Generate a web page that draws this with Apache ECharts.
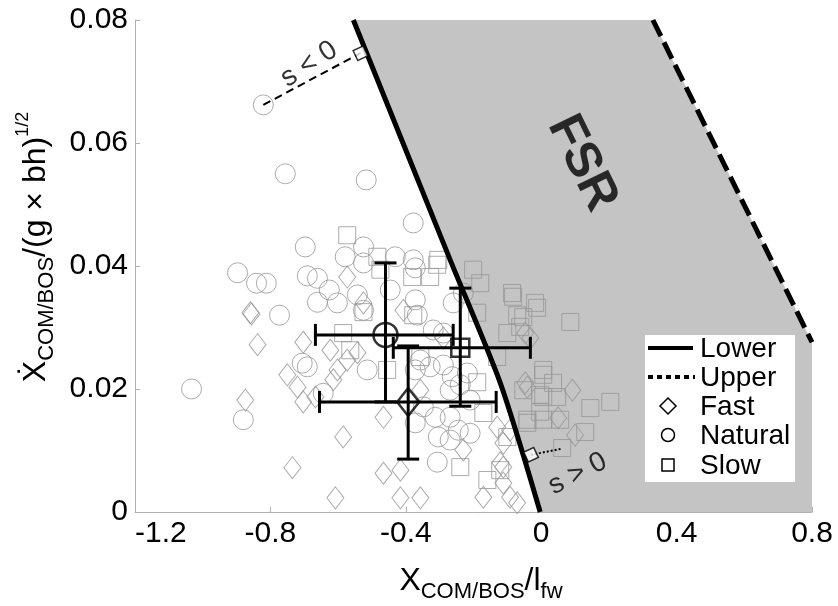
<!DOCTYPE html>
<html>
<head>
<meta charset="utf-8">
<script src="https://cdn.jsdelivr.net/npm/echarts@6/dist/echarts.min.js"></script>
<style>html,body{margin:0;padding:0;background:#fff}#c{width:838px;height:606px}</style>
</head>
<body>
<div id="c"></div>
<script>
// ---- data ----
const xTickLabels = ['-1.2', '-0.8', '-0.4', '0', '0.4', '0.8'];
const yTickLabels = ['0', '0.02', '0.04', '0.06', '0.08'];

const fastPoints = [
  [-0.573,0.0382],[-0.859,0.0324],[-0.838,0.0272],[-0.750,0.0223],[-0.703,0.0276],[-0.623,0.0263],
  [-0.874,0.0182],[-0.720,0.0203],[-0.703,0.0179],[-0.667,0.0187],[-0.614,0.0215],[-0.602,0.0231],
  [-0.573,0.0247],[-0.543,0.0259],[-0.525,0.0340],[-0.466,0.0154],[-0.585,0.0122],[-0.735,0.0072],
  [-0.608,0.0023],[-0.466,0.0063],[-0.416,0.0068],[-0.416,0.0023],[-0.357,0.0023],[-0.130,0.0138],
  [-0.112,0.0112],[-0.121,0.0080],[-0.171,0.0024],[-0.112,0.0047],[-0.092,0.0024],[-0.071,0.0015],
  [-0.041,0.0203],[-0.032,0.0283],[-0.407,0.0328],[-0.289,0.0283],[-0.357,0.0198],[-0.230,0.0101],
  [-0.047,0.0291],[-0.047,0.0210],[0.092,0.0198],[0.050,0.0153],[0.100,0.0125],[-0.092,0.0133],
  [-0.112,0.0073],[-0.856,0.0322]
];
const naturalPoints = [
  [-0.821,0.0662],[-0.756,0.0550],[-0.517,0.0540],[-0.378,0.0470],[-0.697,0.0431],[-0.525,0.0431],
  [-0.579,0.0415],[-0.431,0.0415],[-0.378,0.0410],[-0.897,0.0389],[-0.841,0.0372],[-0.812,0.0372],
  [-0.773,0.0320],[-1.033,0.0200],[-0.880,0.0150],[-0.691,0.0384],[-0.661,0.0380],[-0.626,0.0361],
  [-0.661,0.0341],[-0.602,0.0340],[-0.525,0.0405],[-0.372,0.0397],[-0.543,0.0353],[-0.525,0.0328],
  [-0.372,0.0345],[-0.366,0.0320],[-0.319,0.0296],[-0.289,0.0291],[-0.514,0.0231],[-0.706,0.0242],
  [-0.372,0.0231],[-0.357,0.0247],[-0.328,0.0236],[-0.289,0.0239],[-0.263,0.0220],[-0.269,0.0198],
  [-0.239,0.0207],[-0.218,0.0226],[-0.260,0.0340],[-0.230,0.0356],[-0.348,0.0171],[-0.372,0.0145],
  [-0.313,0.0154],[-0.304,0.0122],[-0.269,0.0117],[-0.245,0.0133],[-0.210,0.0128],[-0.307,0.0081],
  [-0.269,0.0154],[-0.210,0.0182],[-0.644,0.0193],[-0.691,0.0236],[-0.446,0.0361]
];
const slowPoints = [
  [-0.573,0.0450],[-0.484,0.0415],[-0.304,0.0410],[-0.307,0.0402],[-0.201,0.0394],[-0.180,0.0372],
  [-0.328,0.0382],[-0.381,0.0382],[-0.475,0.0394],[-0.525,0.0325],[-0.378,0.0320],[-0.189,0.0324],
  [-0.083,0.0350],[-0.071,0.0320],[-0.012,0.0332],[-0.100,0.0291],[-0.130,0.0252],[-0.585,0.0291],
  [-0.564,0.0263],[-0.455,0.0231],[-0.357,0.0252],[-0.189,0.0211],[-0.053,0.0198],[0.006,0.0223],
  [0.006,0.0187],[0.006,0.0150],[-0.041,0.0145],[-0.171,0.0161],[-0.100,0.0122],[-0.239,0.0073],
  [-0.159,0.0052],[-0.121,0.0068],[-0.086,0.0356],[-0.053,0.0317],[-0.018,0.0340],[-0.062,0.0301],
  [0.086,0.0309],[0.006,0.0231],[0.035,0.0210],[-0.003,0.0190],[0.047,0.0187],[0.204,0.0179],
  [0.145,0.0169],[-0.003,0.0163],[-0.041,0.0150],[0.056,0.0150],[0.130,0.0130],[0.062,0.0104]
];

// means with error bounds: [x, y, xLow, xHigh, yLow, yHigh]
const fastMean    = [-0.393, 0.0179, -0.655, -0.133, 0.0086, 0.0270];
const naturalMean = [-0.460, 0.0288, -0.667, -0.260, 0.0179, 0.0405];
const slowMean    = [-0.239, 0.0267, -0.437, -0.032, 0.0172, 0.0364];

const lowerBoundary = [[-0.003,0],[-0.121,0.021],[-0.269,0.041],[-0.555,0.08]];
const upperBoundary = [[0.33,0.08],[0.8,0.0276]];
const fsrRegion = [[-0.003,0],[-0.121,0.021],[-0.269,0.041],[-0.555,0.08],[0.33,0.08],[0.8,0.0276],[0.8,0]];

const sNegLine = [[-0.821,0.0662],[-0.534,0.0746]];
const sPosLine = [[-0.030,0.0093],[0.062,0.0103]];
const sMarkers = [[-0.534,0.0746],[-0.030,0.0093]];

const annotations = [
  {text:'FSR',   pos:[0.121,0.0567], rotate:-64, size:50, weight:'bold'},
  {text:'s < 0', pos:[-0.686,0.0728], rotate:33, size:28, weight:'normal'},
  {text:'s > 0', pos:[0.108,0.0062], rotate:27, size:28, weight:'normal'}
];

// ---- chart ----
const FONT = 'Liberation Sans, Arial, DejaVu Sans, sans-serif';
const chart = echarts.init(document.getElementById('c'), null, {renderer:'canvas'});

const openStyle = {color:'rgba(0,0,0,0)', borderColor:'#969696', borderWidth:1};
const meanStyle = {color:'rgba(0,0,0,0)', borderColor:'#000', borderWidth:2.5};

function errRender(params, api) {
  const c = api.coord([api.value(0), api.value(1)]);
  const xl = api.coord([api.value(2), api.value(1)]);
  const xh = api.coord([api.value(3), api.value(1)]);
  const yl = api.coord([api.value(0), api.value(4)]);
  const yh = api.coord([api.value(0), api.value(5)]);
  const h = 11;
  const st = {stroke:'#000', lineWidth:3};
  const L = (x1,y1,x2,y2) => ({type:'line', shape:{x1,y1,x2,y2}, style:st});
  return {type:'group', children:[
    L(xl[0],c[1],xh[0],c[1]),
    L(xl[0],c[1]-h,xl[0],c[1]+h),
    L(xh[0],c[1]-h,xh[0],c[1]+h),
    L(c[0],yl[1],c[0],yh[1]),
    L(c[0]-h,yl[1],c[0]+h,yl[1]),
    L(c[0]-h,yh[1],c[0]+h,yh[1])
  ]};
}

const legendText = (label, y) => ({type:'text', x:700, y:y, z:101,
  style:{text:label, fontSize:28, fontFamily:FONT, fill:'#000', verticalAlign:'middle', align:'left'}});

const option = {
  animation:false,
  grid:{left:135, right:26, top:20, bottom:94, containLabel:false},
  xAxis:{
    type:'value', min:-1.2, max:0.8, interval:0.4,
    axisLine:{show:true, onZero:false, lineStyle:{color:'#b0b0b0', width:1}},
    axisTick:{show:true, inside:true, length:5, lineStyle:{color:'#b0b0b0'}},
    splitLine:{show:false},
    axisLabel:{fontSize:30, fontFamily:FONT, color:'#000', margin:7, alignMinLabel:'left',
      formatter:(v,i)=>xTickLabels[i]}
  },
  yAxis:{
    type:'value', min:0, max:0.08, interval:0.02,
    axisLine:{show:true, onZero:false, lineStyle:{color:'#b0b0b0', width:1}},
    axisTick:{show:true, inside:true, length:5, lineStyle:{color:'#b0b0b0'}},
    splitLine:{show:false},
    axisLabel:{fontSize:30, fontFamily:FONT, color:'#000', margin:7,
      formatter:(v,i)=>yTickLabels[i]}
  },
  series:[
    {type:'custom', silent:true, z:1, data:[0],
      renderItem:(params, api)=>({type:'polygon', shape:{points:fsrRegion.map(p=>api.coord(p))},
        style:{fill:'#c4c4c4'}})},
    {type:'scatter', name:'Fast', data:fastPoints, symbol:'diamond', symbolSize:[17,22], itemStyle:openStyle, z:2},
    {type:'scatter', name:'Natural', data:naturalPoints, symbol:'circle', symbolSize:20, itemStyle:openStyle, z:2},
    {type:'scatter', name:'Slow', data:slowPoints, symbol:'rect', symbolSize:17, itemStyle:openStyle, z:2},
    {type:'line', name:'Lower', data:lowerBoundary, symbol:'none', smooth:0.25, lineStyle:{color:'#000', width:5}, z:3},
    {type:'line', name:'Upper', data:upperBoundary, symbol:'none', lineStyle:{color:'#000', width:5, type:[18,7]}, z:3},
    {type:'line', data:sNegLine, symbol:'none', lineStyle:{color:'#000', width:2, type:[8,5]}, z:3},
    {type:'line', data:sPosLine, symbol:'none', lineStyle:{color:'#000', width:2, type:[2,2]}, z:3},
    {type:'scatter', data:sMarkers, symbol:'rect', symbolSize:11, symbolRotate:25,
      itemStyle:{color:'#fff', borderColor:'#000', borderWidth:1.5}, z:4},
    {type:'custom', z:5, data:[fastMean, naturalMean, slowMean], renderItem:errRender,
      encode:{x:[0,2,3], y:[1,4,5]}},
    {type:'scatter', data:[fastMean.slice(0,2)], symbol:'diamond', symbolSize:[22,28], itemStyle:meanStyle, z:6},
    {type:'scatter', data:[naturalMean.slice(0,2)], symbol:'circle', symbolSize:24, itemStyle:meanStyle, z:6},
    {type:'scatter', data:[slowMean.slice(0,2)], symbol:'rect', symbolSize:18, itemStyle:meanStyle, z:6},
    {type:'scatter', z:7, symbolSize:0, silent:true,
      data:annotations.map(a=>({value:a.pos, label:{show:true, position:'inside', formatter:a.text,
        rotate:a.rotate, fontSize:a.size, fontWeight:a.weight, fontFamily:FONT, color:'#000'}}))}
  ],
  graphic:[
    // axis titles
    {type:'text', x:481, y:581, z:50, style:{
      text:'{m|X}{s|COM/BOS}{m|/l}{s|fw}', align:'center', verticalAlign:'middle',
      rich:{m:{fontSize:32, lineHeight:44, fontFamily:FONT, fill:'#000'},
            s:{fontSize:22, lineHeight:22, verticalAlign:'bottom', fontFamily:FONT, fill:'#000'}}}},
    {type:'text', x:36, y:247, rotation:Math.PI/2, z:50, style:{
      text:'{m|\u1E8A}{s|COM/BOS}{m|/(g \u00D7 bh)}{p|1/2}', align:'center', verticalAlign:'middle',
      rich:{m:{fontSize:32, lineHeight:44, fontFamily:FONT, fill:'#000'},
            s:{fontSize:22, lineHeight:22, verticalAlign:'bottom', fontFamily:FONT, fill:'#000'},
            p:{fontSize:18, lineHeight:18, verticalAlign:'top', fontFamily:FONT, fill:'#000'}}}},
    // legend
    {type:'rect', z:100, shape:{x:645, y:335, width:150, height:147}, style:{fill:'#ffffff', stroke:null}},
    {type:'line', z:101, shape:{x1:648, y1:348, x2:693, y2:348}, style:{stroke:'#000', lineWidth:4}},
    {type:'line', z:101, shape:{x1:648, y1:377, x2:695, y2:377}, style:{stroke:'#000', lineWidth:4, lineDash:[5,4]}},
    {type:'polygon', z:101, shape:{points:[[668,398],[676,406],[668,414],[660,406]]}, style:{fill:'#fff', stroke:'#000', lineWidth:1.5}},
    {type:'circle', z:101, shape:{cx:668, cy:435, r:6.5}, style:{fill:'#fff', stroke:'#000', lineWidth:1.5}},
    {type:'rect', z:101, shape:{x:662, y:459, width:12, height:12}, style:{fill:'#fff', stroke:'#000', lineWidth:1.5}},
    legendText('Lower', 349),
    legendText('Upper', 378),
    legendText('Fast', 407),
    legendText('Natural', 436),
    legendText('Slow', 466)
  ]
};
chart.setOption(option);
</script>
</body>
</html>
